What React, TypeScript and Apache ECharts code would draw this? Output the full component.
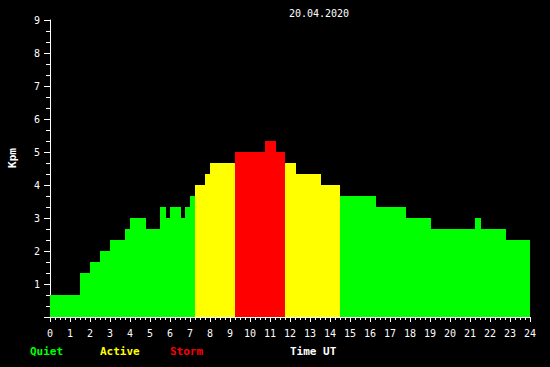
import React, { useEffect, useRef } from "react";
import * as echarts from "echarts";

// Kpm index steps: segment boundaries (hours UT) and the value held in each segment
const boundaries: number[] = [
  0, 1.5, 2.0, 2.5, 3.0, 3.75, 4.0, 4.8, 5.5, 5.8, 6.0, 6.55, 6.75, 7.0, 7.25,
  7.75, 8.0, 9.25, 10.75, 11.3, 11.75, 12.3, 13.55, 14.5, 16.3, 17.8, 19.05,
  21.25, 21.55, 22.8, 24,
];
const kpmValues: number[] = [
  0.667, 1.333, 1.667, 2.0, 2.333, 2.667, 3.0, 2.667, 3.333, 3.0, 3.333, 3.0,
  3.333, 3.667, 4.0, 4.333, 4.667, 5.0, 5.333, 5.0, 4.667, 4.333, 4.0, 3.667,
  3.333, 3.0, 2.667, 3.0, 2.667, 2.333,
];
const title = "20.04.2020";
const legendItems = [
  { name: "Quiet", color: "#00ff00" },
  { name: "Active", color: "#ffff00" },
  { name: "Storm", color: "#ff0000" },
];

const FONT = "'DejaVu Sans Mono', monospace";

function colorFor(v: number): string {
  if (v >= 5) return "#ff0000";
  if (v >= 4) return "#ffff00";
  return "#00ff00";
}

export default function App() {
  const ref = useRef<HTMLDivElement>(null);

  useEffect(() => {
    if (!ref.current) return;
    const chart = echarts.init(ref.current, undefined, { renderer: "svg" });
    const data = kpmValues.map((v, i) => [boundaries[i], boundaries[i + 1], v]);
    const legendX = [30, 100, 170];

    chart.setOption({
      animation: false,
      backgroundColor: "#000000",
      grid: { left: 50, right: 20, top: 20, bottom: 50 },
      xAxis: {
        type: "value",
        min: 0,
        max: 24,
        interval: 1,
        axisLine: { show: true, lineStyle: { color: "#ffffff", width: 1 } },
        axisTick: { show: true, length: 5, lineStyle: { color: "#ffffff" } },
        minorTick: { show: true, splitNumber: 4, length: 3, lineStyle: { color: "#ffffff" } },
        splitLine: { show: false },
        minorSplitLine: { show: false },
        axisLabel: { color: "#ffffff", fontFamily: FONT, fontSize: 10, margin: 11 },
      },
      yAxis: {
        type: "value",
        min: 0,
        max: 9,
        interval: 1,
        axisLine: { show: true, lineStyle: { color: "#ffffff", width: 1 } },
        axisTick: { show: true, length: 6, lineStyle: { color: "#ffffff" } },
        minorTick: { show: true, splitNumber: 3, length: 4, lineStyle: { color: "#ffffff" } },
        splitLine: { show: false },
        minorSplitLine: { show: false },
        axisLabel: {
          color: "#ffffff",
          fontFamily: FONT,
          fontSize: 10,
          margin: 10,
          formatter: (v: number) => (v === 0 ? "" : String(v)),
        },
      },
      series: [
        {
          type: "custom",
          data,
          encode: { x: [0, 1], y: 2 },
          renderItem: (params: any, api: any) => {
            const start = api.value(0);
            const end = api.value(1);
            const v = api.value(2);
            const p0 = api.coord([start, v]);
            const p1 = api.coord([end, 0]);
            return {
              type: "rect",
              shape: { x: p0[0], y: p0[1], width: p1[0] - p0[0], height: p1[1] - p0[1] },
              style: { fill: colorFor(v) },
            };
          },
          z: 1,
        },
      ],
      graphic: [
        {
          type: "text",
          x: 319,
          y: 13,
          style: {
            text: title,
            fill: "#ffffff",
            font: `10px ${FONT}`,
            textAlign: "center",
            textVerticalAlign: "middle",
          },
        },
        {
          type: "text",
          x: 12,
          y: 158,
          rotation: Math.PI / 2,
          style: {
            text: "Kpm",
            fill: "#ffffff",
            font: `bold 11px ${FONT}`,
            textAlign: "center",
            textVerticalAlign: "middle",
          },
        },
        ...legendItems.map((it, i) => ({
          type: "text",
          x: legendX[i],
          y: 351,
          style: {
            text: it.name,
            fill: it.color,
            font: `bold 11px ${FONT}`,
            textAlign: "left",
            textVerticalAlign: "middle",
          },
        })),
        {
          type: "text",
          x: 290,
          y: 351,
          style: {
            text: "Time UT",
            fill: "#ffffff",
            font: `bold 11px ${FONT}`,
            textAlign: "left",
            textVerticalAlign: "middle",
          },
        },
      ],
    });

    return () => chart.dispose();
  }, []);

  return (
    <div
      ref={ref}
      style={{ position: "fixed", left: 0, top: 0, width: 550, height: 367, background: "#000" }}
    />
  );
}
